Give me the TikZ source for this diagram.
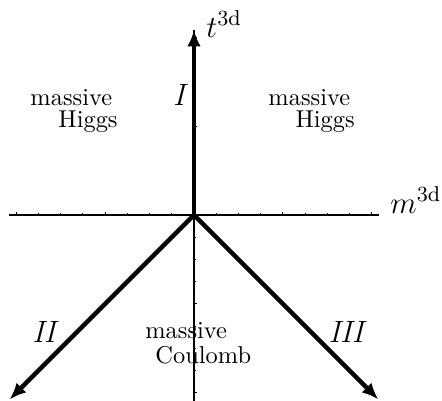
\RequirePackage{fix-cm}
\documentclass[tikz,border=0pt]{standalone}
\usetikzlibrary{arrows.meta}
\begin{document}
\begin{tikzpicture}[x=9.375pt,y=9.375pt,
  axisline/.style={line width=0.45pt},
  tickmark/.style={line width=0.45pt},
  thickarrow/.style={line width=1.8pt,-{Latex[length=7pt,width=5.8pt]}},
  regiontext/.style={inner sep=0pt,anchor=base west,font=\fontsize{10.3}{12}\selectfont},
  axislabel/.style={inner sep=0pt,anchor=base west,font=\fontsize{13}{15}\selectfont},
  phaselabel/.style={inner sep=0pt,anchor=base,font=\fontsize{13}{15}\selectfont\itshape}]
\useasboundingbox (-8.73,-8.33) rectangle (11.16,9.675);
% named coordinates
\coordinate (O) at (0,0);
\coordinate (xl) at (-8.33,0);
\coordinate (xr) at (8.33,0);
\coordinate (yb) at (0,-8.4);
\coordinate (yt) at (0,8.33);
\coordinate (a2) at (-8.3,-8.3);
\coordinate (a3) at (8.3,-8.3);
% axes
\draw[axisline] (xl) -- (xr);
\draw[axisline] (yb) -- (yt);
% ticks
\foreach \i in {-7,-6,-5,-3,-2,-1,1,2,3,5,6,7} {
  \draw[tickmark] (\i,0) -- ++(0,0.75pt);
  \draw[tickmark] (0,\i) -- ++(0.75pt,0);
}
\foreach \i in {-8,-4,4,8} {
  \draw[tickmark] (\i,0) -- ++(0,1.4pt);
  \draw[tickmark] (0,\i) -- ++(1.4pt,0);
}
% thick arrows
\draw[thickarrow] (O) -- (yt);
\draw[thickarrow] (O) -- (a2);
\draw[thickarrow] (O) -- (a3);
% axis labels
\node[axislabel] (tlab) at (0.54,8.01) {$t^{\mathrm{3d}}$};
\node[axislabel] (mlab) at (8.82,0.09) {$m^{\mathrm{3d}}$};
% phase labels
\node[phaselabel] (pI) at (-0.675,4.95) {I};
\node[phaselabel] (pII) at (-6.75,-5.72) {II};
\node[phaselabel] (pIII) at (6.84,-5.72) {III};
% region texts
\node[regiontext] (lm) at (-7.38,4.95) {massive};
\node[regiontext] (lh) at (-6.12,3.92) {Higgs};
\node[regiontext] (rm) at (3.33,4.95) {massive};
\node[regiontext] (rh) at (4.55,3.92) {Higgs};
\node[regiontext] (cm) at (-2.21,-5.54) {massive};
\node[regiontext] (cc) at (-1.755,-6.66) {Coulomb};
\end{tikzpicture}
\end{document}
